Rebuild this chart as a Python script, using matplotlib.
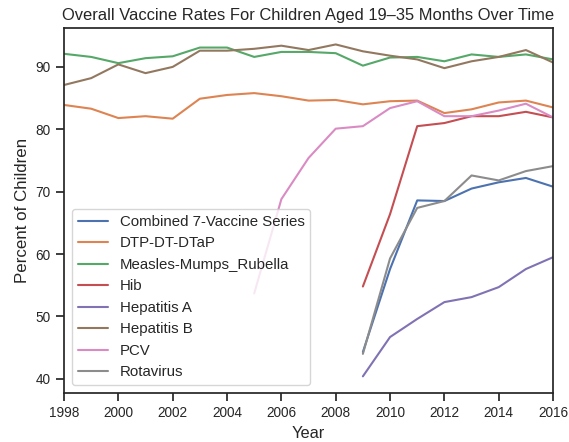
import matplotlib
matplotlib.use("Agg")
import matplotlib.pyplot as plt
import seaborn as sns

sns.set_theme(style="ticks", palette="deep")
plt.rcParams["font.family"] = ["Liberation Sans", "DejaVu Sans"]

YEARS = list(range(1998, 2017))
LATE_YEARS = list(range(2009, 2017))
PCV_YEARS = list(range(2005, 2017))

combined_7 = [44.3, 57.6, 68.6, 68.5, 70.5, 71.5, 72.2, 70.8]
dtp = [83.9, 83.3, 81.8, 82.1, 81.7, 84.9, 85.5, 85.8, 85.3, 84.6,
       84.7, 84.0, 84.5, 84.6, 82.6, 83.2, 84.3, 84.6, 83.5]
mmr = [92.1, 91.6, 90.6, 91.4, 91.7, 93.1, 93.1, 91.6, 92.4, 92.4,
       92.2, 90.2, 91.5, 91.6, 90.9, 92.0, 91.6, 92.0, 91.2]
hib = [54.8, 66.4, 80.5, 81.0, 82.1, 82.1, 82.8, 81.9]
hep_a = [40.4, 46.7, 49.6, 52.3, 53.1, 54.7, 57.6, 59.5]
hep_b = [87.1, 88.2, 90.4, 89.0, 90.0, 92.6, 92.6, 92.9, 93.4, 92.7,
         93.6, 92.5, 91.8, 91.2, 89.8, 90.9, 91.6, 92.7, 90.7]
pcv = [53.7, 68.8, 75.4, 80.1, 80.5, 83.4, 84.5, 82.1, 82.1, 83.0, 84.1, 81.9]
rotavirus = [44.0, 59.3, 67.4, 68.5, 72.6, 71.8, 73.3, 74.1]

SERIES = [
    ("Combined 7-Vaccine Series", LATE_YEARS, combined_7),
    ("DTP-DT-DTaP", YEARS, dtp),
    ("Measles-Mumps_Rubella", YEARS, mmr),
    ("Hib", LATE_YEARS, hib),
    ("Hepatitis A", LATE_YEARS, hep_a),
    ("Hepatitis B", YEARS, hep_b),
    ("PCV", PCV_YEARS, pcv),
    ("Rotavirus", LATE_YEARS, rotavirus),
]

fig, ax = plt.subplots(figsize=(5.69, 4.42), dpi=100)
fig.subplots_adjust(left=0.1125, right=0.972, top=0.937, bottom=0.111)

for label, x, y in SERIES:
    ax.plot(x, y, label=label, linewidth=1.5)

ax.set_xlim(1998, 2016)
ax.set_xticks(range(1998, 2017, 2))
ax.set_title("Overall Vaccine Rates For Children Aged 19\u201335 Months Over Time", fontsize=11.9)
ax.set_xlabel("Year", fontsize=11.8)
ax.set_ylabel("Percent of Children", fontsize=12.2)
ax.tick_params(labelsize=9.8)
ax.legend(loc="lower left", fontsize=10.8)

fig.savefig("out.png", dpi=100)
